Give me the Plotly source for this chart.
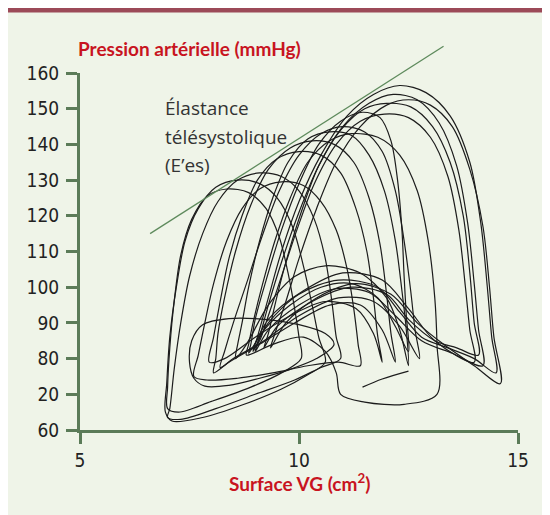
import plotly.graph_objects as go

# ---------------- data ----------------
X_TICKS = [5, 10, 15]
Y_TICK_VALUES = [60, 70, 80, 90, 100, 110, 120, 130, 140, 150, 160]
Y_TICK_LABELS = ["60", "20", "80", "90", "100", "110", "120", "130", "140", "150", "160"]

ELASTANCE_X = [6.6, 13.3]
ELASTANCE_Y = [115, 167.5]

LOOP_01_X = [14.5, 14.4, 14.3, 14.15, 13.9, 13.45, 12.9, 12.3, 11.7, 11.1, 10.5, 10.0, 9.6, 9.3, 9.05, 8.95, 9.3, 10.0, 10.9, 11.8, 12.3, 12.8, 13.4, 14.0, 14.5]
LOOP_01_Y = [76, 86, 100, 118, 135, 148, 154.5, 156.5, 154, 148, 137, 124, 110, 97, 86, 82, 90, 98, 102, 100, 93, 86, 83, 80, 76]

LOOP_02_X = [14.2, 14.1, 14.0, 13.85, 13.6, 13.2, 12.7, 12.15, 11.6, 11.0, 10.45, 10.0, 9.6, 9.3, 9.1, 9.0, 9.3, 10.0, 10.8, 11.6, 12.2, 12.8, 13.5, 14.2]
LOOP_02_Y = [78, 88, 101, 118, 134, 146, 152.5, 154, 151.5, 145, 134, 121, 107, 95, 86, 82, 88, 95, 99.5, 98.5, 92, 85, 81.5, 78]

LOOP_03_X = [14.6, 14.45, 14.35, 14.2, 13.9, 13.5, 13.0, 12.5, 12.0, 11.4, 10.85, 10.4, 10.0, 9.7, 9.45, 9.35, 9.7, 10.4, 11.3, 12.1, 12.7, 13.3, 14.0, 14.6]
LOOP_03_Y = [73, 86, 100, 117, 133, 145, 151, 152.5, 151, 145, 135, 122, 108, 96, 87, 83, 90, 97, 101, 98, 90, 84, 78, 73]

LOOP_04_X = [14.0, 13.9, 13.8, 13.65, 13.4, 13.0, 12.5, 11.95, 11.4, 10.85, 10.35, 9.95, 9.6, 9.3, 9.1, 8.95, 9.3, 10.1, 11.0, 11.9, 12.5, 13.1, 14.0]
LOOP_04_Y = [79, 88, 100, 116, 131, 142, 147.5, 148.5, 146.5, 140, 129, 116, 103, 92, 85, 82.5, 91, 99, 104, 102, 94, 85, 79]

LOOP_05_X = [12.5, 12.45, 12.4, 12.35, 12.25, 12.1, 11.85, 11.45, 10.95, 10.45, 10.0, 9.6, 9.25, 9.0, 8.9, 8.85, 9.2, 9.8, 10.5, 11.2, 11.8, 12.2, 12.5]
LOOP_05_Y = [82, 92, 103, 116, 130, 141, 147.5, 149, 146.5, 140, 129, 116, 102, 91, 84, 81.5, 88, 95, 100, 101, 97, 89, 82]

LOOP_06_X = [12.75, 12.65, 12.55, 12.4, 12.2, 11.9, 11.5, 11.0, 10.5, 10.0, 9.55, 9.15, 8.8, 8.5, 8.3, 8.2, 8.5, 9.2, 10.0, 10.9, 11.7, 12.3, 12.75]
LOOP_06_Y = [80, 88, 99, 113, 127, 138, 143.5, 145, 143, 137, 127, 114, 101, 90, 82, 77.5, 80, 85, 92, 97, 96, 89, 80]

LOOP_07_X = [13.15, 13.15, 13.1, 12.95, 12.7, 12.3, 11.8, 11.2, 10.7, 10.2, 9.8, 9.45, 9.15, 8.95, 8.85, 8.8, 9.4, 10.1, 10.6, 10.85, 10.95, 11.5, 12.4, 13.15]
LOOP_07_Y = [70, 84, 97, 113, 127, 137, 142, 143, 141, 135, 125, 113, 100, 90, 84, 81, 84, 86, 82, 76, 70, 67.8, 67.2, 70]

LOOP_08_X = [12.2, 12.1, 12.0, 11.85, 11.6, 11.25, 10.8, 10.3, 9.8, 9.3, 8.9, 8.55, 8.3, 8.15, 8.1, 8.05, 8.4, 9.1, 9.9, 10.7, 11.4, 11.9, 12.2]
LOOP_08_Y = [79, 87, 98, 112, 125, 135, 140, 141, 139, 133, 123, 110, 97, 87, 80, 76, 79, 84, 90, 95, 95, 88, 79]

LOOP_09_X = [11.9, 11.8, 11.7, 11.55, 11.3, 10.95, 10.5, 10.0, 9.5, 9.05, 8.7, 8.4, 8.2, 8.05, 7.95, 8.3, 9.0, 9.8, 10.6, 11.3, 11.7, 11.9]
LOOP_09_Y = [79, 86, 97, 110, 122, 132, 137, 138, 136, 130, 120, 108, 96, 86, 79, 80, 86, 92, 96, 94, 87, 79]

LOOP_10_X = [11.4, 11.35, 11.25, 11.1, 10.85, 10.5, 10.1, 9.6, 9.1, 8.7, 8.35, 8.05, 7.85, 7.7, 7.6, 7.9, 8.6, 9.4, 10.2, 10.9, 11.4]
LOOP_10_Y = [78, 84, 94, 105, 116, 124, 128.5, 129.5, 127.5, 122, 113, 101, 90, 81, 75, 74, 74.5, 76, 78, 79, 78]

LOOP_11_X = [10.95, 10.85, 10.75, 10.6, 10.35, 10.0, 9.6, 9.1, 8.6, 8.15, 7.8, 7.5, 7.3, 7.15, 7.05, 7.0, 7.3, 8.1, 9.0, 9.9, 10.5, 10.95]
LOOP_11_Y = [80, 86, 96, 108, 119, 127, 131, 132, 130, 124, 115, 103, 90, 77, 66, 63.5, 63, 66, 70, 74, 77.5, 80]

LOOP_12_X = [10.6, 10.45, 10.3, 10.1, 9.85, 9.5, 9.1, 8.6, 8.1, 7.7, 7.4, 7.2, 7.05, 6.98, 6.95, 7.1, 7.8, 8.7, 9.6, 10.2, 10.6]
LOOP_12_Y = [79, 86, 95, 106, 117, 125, 129, 130, 128, 122, 113, 100, 86, 73, 65, 62.5, 63.5, 67, 71.5, 75.5, 79]

LOOP_13_X = [10.05, 10.0, 9.9, 9.75, 9.55, 9.25, 8.85, 8.35, 7.9, 7.55, 7.3, 7.15, 7.05, 7.0, 7.0, 7.25, 8.0, 8.9, 9.6, 10.05]
LOOP_13_Y = [80, 86, 94, 104, 114, 122, 126.5, 127.5, 125.5, 119, 109, 96, 83, 72, 66, 65, 68, 72, 76, 80]

LOOP_14_X = [10.8, 10.4, 9.8, 9.1, 8.4, 7.85, 7.6, 7.5, 7.55, 7.8, 8.4, 9.2, 10.0, 10.6, 10.8]
LOOP_14_Y = [84, 80, 77, 74.5, 72.5, 72.3, 74.5, 79, 85, 89.5, 91.2, 91, 89.5, 87, 84]

LOOP_15_X = [12.5, 12.45, 12.35, 12.2, 11.95, 11.6, 11.2, 10.7, 10.2, 9.75, 9.4, 9.1, 8.85, 8.7, 8.6, 8.55, 8.8, 9.3, 9.9, 10.6, 11.4, 12.0, 12.3, 12.5]
LOOP_15_Y = [78, 88, 99, 113, 127, 137, 142.5, 143.5, 141.5, 135, 125, 113, 100, 90, 84, 80, 84, 95, 103, 106, 104, 97, 88, 78]

LOOP_16_X = [14.1, 14.0, 13.9, 13.75, 13.45, 13.05, 12.55, 12.0, 11.5, 10.95, 10.45, 10.05, 9.7, 9.45, 9.3, 9.2, 9.5, 10.3, 11.2, 12.0, 12.5, 13.1, 13.6, 14.1]
LOOP_16_Y = [81, 90, 104, 120, 135, 145, 150.5, 151.5, 150, 144, 134, 121, 107, 95, 87, 83, 89, 96, 100, 98, 91, 85, 83, 81]

# short stray trace near the bottom of the tangle
STRAY_X = [11.45, 11.9, 12.5]
STRAY_Y = [72.0, 74.3, 76.5]

LOOPS = [
    (LOOP_01_X, LOOP_01_Y), (LOOP_02_X, LOOP_02_Y), (LOOP_03_X, LOOP_03_Y),
    (LOOP_04_X, LOOP_04_Y), (LOOP_05_X, LOOP_05_Y), (LOOP_06_X, LOOP_06_Y),
    (LOOP_07_X, LOOP_07_Y), (LOOP_08_X, LOOP_08_Y), (LOOP_09_X, LOOP_09_Y),
    (LOOP_10_X, LOOP_10_Y), (LOOP_11_X, LOOP_11_Y), (LOOP_12_X, LOOP_12_Y),
    (LOOP_13_X, LOOP_13_Y), (LOOP_14_X, LOOP_14_Y), (LOOP_15_X, LOOP_15_Y),
    (LOOP_16_X, LOOP_16_Y), (STRAY_X, STRAY_Y),
]

# ---------------- styling ----------------
PAGE_OFFSET = 8                 # default body margin of the html page
W, H = 550 - PAGE_OFFSET, 515 - PAGE_OFFSET
ML, MR, MT, MB = 80 - PAGE_OFFSET, 32, 40 - PAGE_OFFSET, 85
PLOT_W = W - ML - MR
PLOT_H = H - MT - MB
PX_PER_UNIT_Y = 3.57           # pixels per mmHg in the reference
Y_MAIN_SPAN = (160 - 60) * PX_PER_UNIT_Y

BG = "#eff4e8"
AXIS_GREEN = "#5b7b58"
LINE_GREEN = "#5e8a5c"
RED = "#c8141f"
MAROON = "#9c4a58"
INK = "#1c1c1c"

TICK_FONT = dict(family="Liberation Sans Narrow, DejaVu Sans Condensed, Arial Narrow, sans-serif",
                 size=19, color="#222222")
TITLE_FONT = dict(family="Lato, Open Sans, sans-serif", size=19, color=RED)
NOTE_FONT = dict(family="Open Sans, Noto Sans, sans-serif", size=19, color="#333333")

fig = go.Figure()

for lx, ly in LOOPS:
    fig.add_trace(go.Scatter(
        x=lx, y=ly, mode="lines",
        line=dict(color=INK, width=1.2, shape="spline", smoothing=0.9),
        hoverinfo="skip", showlegend=False, xaxis="x", yaxis="y",
    ))

fig.add_trace(go.Scatter(
    x=ELASTANCE_X, y=ELASTANCE_Y, mode="lines",
    line=dict(color=LINE_GREEN, width=1.3),
    hoverinfo="skip", showlegend=False, xaxis="x", yaxis="y2",
))


def py_to_paper(py_page):
    """Vertical page pixel -> paper coordinate of the plot area."""
    return (H - MB - (py_page - PAGE_OFFSET)) / PLOT_H


fig.update_layout(
    width=W, height=H,
    margin=dict(l=ML, r=MR, t=MT, b=MB, pad=0),
    paper_bgcolor=BG, plot_bgcolor="rgba(0,0,0,0)",
    showlegend=False,
    xaxis=dict(
        range=[5, 15], tickvals=X_TICKS, ticktext=[str(v) for v in X_TICKS],
        showgrid=False, zeroline=False, showline=True,
        linecolor=AXIS_GREEN, linewidth=3,
        ticks="outside", ticklen=11, tickwidth=3, tickcolor=AXIS_GREEN,
        tickfont=TICK_FONT, ticklabelstandoff=0, anchor="y", fixedrange=True,
    ),
    yaxis=dict(
        domain=[0, Y_MAIN_SPAN / PLOT_H],
        range=[60, 160], tickvals=Y_TICK_VALUES, ticktext=Y_TICK_LABELS,
        showgrid=False, zeroline=False, showline=True,
        linecolor=AXIS_GREEN, linewidth=3,
        ticks="outside", ticklen=11, tickwidth=3, tickcolor=AXIS_GREEN,
        tickfont=TICK_FONT, ticklabelstandoff=3, anchor="x", fixedrange=True,
    ),
    yaxis2=dict(
        domain=[0, 1], range=[60, 60 + PLOT_H / PX_PER_UNIT_Y],
        visible=False, anchor="x", fixedrange=True,
    ),
    shapes=[
        dict(type="rect", xref="paper", yref="paper",
             x0=-ML / PLOT_W, x1=1 + MR / PLOT_W,
             y0=py_to_paper(12.5), y1=py_to_paper(PAGE_OFFSET),
             fillcolor=MAROON, line=dict(width=0), layer="below"),
    ],
    annotations=[
        dict(text="<b>Pression artérielle (mmHg)</b>", xref="paper", yref="paper",
             x=-0.01, y=py_to_paper(48), xanchor="left", yanchor="middle",
             showarrow=False, font=TITLE_FONT),
        dict(text="<b>Surface VG (cm<sup>2</sup>)</b>", xref="paper", yref="paper",
             x=0.5, y=py_to_paper(482), xanchor="center", yanchor="middle",
             showarrow=False, font=TITLE_FONT),
        dict(text="Élastance", xref="x", yref="y", x=6.9, y=150.2,
             xanchor="left", yanchor="middle", showarrow=False, font=NOTE_FONT),
        dict(text="télésystolique", xref="x", yref="y", x=6.9, y=142.1,
             xanchor="left", yanchor="middle", showarrow=False, font=NOTE_FONT),
        dict(text="(E’es)", xref="x", yref="y", x=6.9, y=134.2,
             xanchor="left", yanchor="middle", showarrow=False, font=NOTE_FONT),
    ],
)

fig.write_html("out.html")
